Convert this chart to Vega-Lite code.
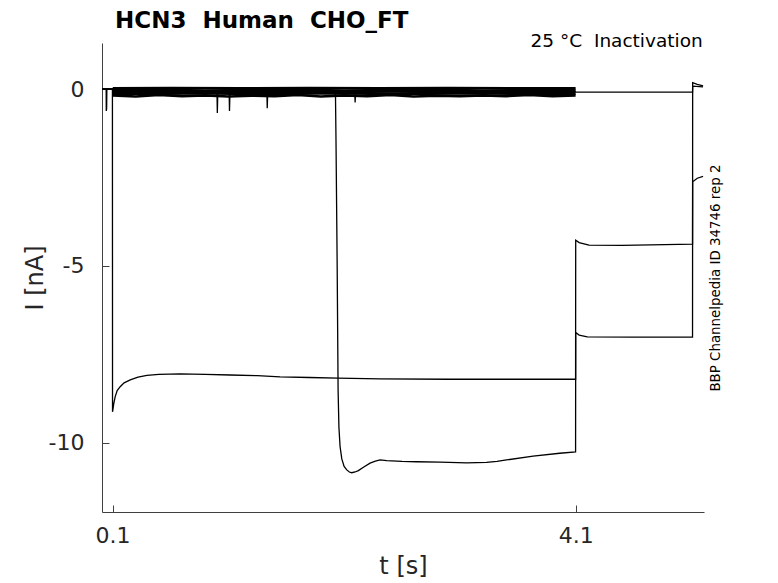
{
  "$schema": "https://vega.github.io/schema/vega-lite/v6.json",
  "width": 602,
  "height": 469,
  "autosize": {"type": "none"},
  "padding": {"left": 102, "top": 43, "right": 74, "bottom": 71},
  "config": {"view": {"stroke": null}, "font": "DejaVu Sans"},
  "title": {"text": "HCN3 \u00a0Human \u00a0CHO_FT", "anchor": "start", "frame": "group", "fontSize": 23, "fontWeight": "bold", "font": "DejaVu Sans", "color": "black", "dx": 13, "offset": -1},
  "datasets": {
    "traces": [
      {"sweep": "a", "t": 0.009, "I": 0.0}, {"sweep": "a", "t": 0.099, "I": 0.0}, {"sweep": "a", "t": 0.1, "I": -9.12},
      {"sweep": "a", "t": 0.11, "I": -8.9}, {"sweep": "a", "t": 0.123, "I": -8.69}, {"sweep": "a", "t": 0.14, "I": -8.52},
      {"sweep": "a", "t": 0.166, "I": -8.41}, {"sweep": "a", "t": 0.2, "I": -8.3}, {"sweep": "a", "t": 0.253, "I": -8.22},
      {"sweep": "a", "t": 0.32, "I": -8.14}, {"sweep": "a", "t": 0.397, "I": -8.09}, {"sweep": "a", "t": 0.5, "I": -8.06},
      {"sweep": "a", "t": 0.684, "I": -8.05}, {"sweep": "a", "t": 0.9, "I": -8.06}, {"sweep": "a", "t": 1.116, "I": -8.08},
      {"sweep": "a", "t": 1.35, "I": -8.1}, {"sweep": "a", "t": 1.547, "I": -8.13}, {"sweep": "a", "t": 1.8, "I": -8.15},
      {"sweep": "a", "t": 2.047, "I": -8.17}, {"sweep": "a", "t": 2.409, "I": -8.19}, {"sweep": "a", "t": 3.0, "I": -8.2},
      {"sweep": "a", "t": 3.5, "I": -8.2}, {"sweep": "a", "t": 4.099, "I": -8.2}, {"sweep": "a", "t": 4.1, "I": -4.27},
      {"sweep": "a", "t": 4.13, "I": -4.34}, {"sweep": "a", "t": 4.215, "I": -4.41}, {"sweep": "a", "t": 4.5, "I": -4.42},
      {"sweep": "a", "t": 5.109, "I": -4.38}, {"sweep": "a", "t": 5.11, "I": -2.62}, {"sweep": "a", "t": 5.15, "I": -2.52},
      {"sweep": "a", "t": 5.2, "I": -2.47},

      {"sweep": "b", "t": 0.009, "I": 0.0}, {"sweep": "b", "t": 0.099, "I": 0.0}, {"sweep": "b", "t": 0.102, "I": -0.05},
      {"sweep": "b", "t": 0.6, "I": -0.06}, {"sweep": "b", "t": 1.2, "I": -0.04}, {"sweep": "b", "t": 1.7, "I": -0.06},
      {"sweep": "b", "t": 2.025, "I": -0.05}, {"sweep": "b", "t": 2.03, "I": -1.5}, {"sweep": "b", "t": 2.04, "I": -5.0},
      {"sweep": "b", "t": 2.048, "I": -8.5}, {"sweep": "b", "t": 2.055, "I": -9.55}, {"sweep": "b", "t": 2.065, "I": -10.1},
      {"sweep": "b", "t": 2.08, "I": -10.45},
      {"sweep": "b", "t": 2.1, "I": -10.66}, {"sweep": "b", "t": 2.123, "I": -10.76}, {"sweep": "b", "t": 2.145, "I": -10.82},
      {"sweep": "b", "t": 2.166, "I": -10.84}, {"sweep": "b", "t": 2.195, "I": -10.82}, {"sweep": "b", "t": 2.223, "I": -10.78},
      {"sweep": "b", "t": 2.27, "I": -10.68}, {"sweep": "b", "t": 2.324, "I": -10.57}, {"sweep": "b", "t": 2.37, "I": -10.51},
      {"sweep": "b", "t": 2.41, "I": -10.48}, {"sweep": "b", "t": 2.468, "I": -10.5}, {"sweep": "b", "t": 2.6, "I": -10.52},
      {"sweep": "b", "t": 2.727, "I": -10.53},
      {"sweep": "b", "t": 2.928, "I": -10.54}, {"sweep": "b", "t": 3.158, "I": -10.56}, {"sweep": "b", "t": 3.33, "I": -10.55},
      {"sweep": "b", "t": 3.42, "I": -10.52},
      {"sweep": "b", "t": 3.503, "I": -10.48}, {"sweep": "b", "t": 3.732, "I": -10.37}, {"sweep": "b", "t": 3.962, "I": -10.29},
      {"sweep": "b", "t": 4.099, "I": -10.25}, {"sweep": "b", "t": 4.1, "I": -6.88}, {"sweep": "b", "t": 4.13, "I": -6.95},
      {"sweep": "b", "t": 4.2, "I": -7.0}, {"sweep": "b", "t": 4.6, "I": -7.01}, {"sweep": "b", "t": 5.109, "I": -7.01},
      {"sweep": "b", "t": 5.11, "I": 0.18}, {"sweep": "b", "t": 5.15, "I": 0.13}, {"sweep": "b", "t": 5.2, "I": 0.09},

      {"sweep": "h", "t": 0.009, "I": 0.0}, {"sweep": "h", "t": 0.045, "I": 0.0}, {"sweep": "h", "t": 0.046, "I": -0.62},
      {"sweep": "h", "t": 0.049, "I": -0.55}, {"sweep": "h", "t": 0.051, "I": 0.0}, {"sweep": "h", "t": 0.099, "I": 0.0},
      {"sweep": "h", "t": 0.102, "I": -0.08},
      {"sweep": "h", "t": 0.5, "I": -0.09}, {"sweep": "h", "t": 1.002, "I": -0.08}, {"sweep": "h", "t": 1.005, "I": -0.68},
      {"sweep": "h", "t": 1.009, "I": -0.1}, {"sweep": "h", "t": 1.107, "I": -0.08}, {"sweep": "h", "t": 1.11, "I": -0.62},
      {"sweep": "h", "t": 1.114, "I": -0.09}, {"sweep": "h", "t": 1.433, "I": -0.08}, {"sweep": "h", "t": 1.436, "I": -0.54},
      {"sweep": "h", "t": 1.44, "I": -0.09}, {"sweep": "h", "t": 1.8, "I": -0.08}, {"sweep": "h", "t": 2.192, "I": -0.09},
      {"sweep": "h", "t": 2.195, "I": -0.38}, {"sweep": "h", "t": 2.199, "I": -0.09}, {"sweep": "h", "t": 2.6, "I": -0.07},
      {"sweep": "h", "t": 3.2, "I": -0.09}, {"sweep": "h", "t": 3.7, "I": -0.08}, {"sweep": "h", "t": 4.099, "I": -0.08},
      {"sweep": "h", "t": 4.102, "I": -0.09}, {"sweep": "h", "t": 4.6, "I": -0.09}, {"sweep": "h", "t": 5.109, "I": -0.09},
      {"sweep": "h", "t": 5.11, "I": 0.08}, {"sweep": "h", "t": 5.2, "I": 0.06},

      {"sweep": "c", "t": 0.102, "I": 0.02}, {"sweep": "c", "t": 0.6, "I": 0.03}, {"sweep": "c", "t": 1.2, "I": 0.02},
      {"sweep": "c", "t": 1.8, "I": 0.03}, {"sweep": "c", "t": 2.4, "I": 0.02}, {"sweep": "c", "t": 3.0, "I": 0.03},
      {"sweep": "c", "t": 3.6, "I": 0.02}, {"sweep": "c", "t": 4.099, "I": 0.02},

      {"sweep": "d", "t": 0.102, "I": -0.03},
      {"sweep": "d", "t": 0.5, "I": -0.02}, {"sweep": "d", "t": 0.9, "I": -0.04}, {"sweep": "d", "t": 1.3, "I": -0.03},
      {"sweep": "d", "t": 1.7, "I": -0.02}, {"sweep": "d", "t": 2.1, "I": -0.04}, {"sweep": "d", "t": 2.5, "I": -0.03},
      {"sweep": "d", "t": 2.9, "I": -0.02}, {"sweep": "d", "t": 3.3, "I": -0.04}, {"sweep": "d", "t": 3.7, "I": -0.03},
      {"sweep": "d", "t": 4.099, "I": -0.03},

      {"sweep": "e", "t": 0.102, "I": -0.08}, {"sweep": "e", "t": 0.55, "I": -0.09}, {"sweep": "e", "t": 1.05, "I": -0.07},
      {"sweep": "e", "t": 1.55, "I": -0.09}, {"sweep": "e", "t": 2.05, "I": -0.08}, {"sweep": "e", "t": 2.55, "I": -0.07},
      {"sweep": "e", "t": 3.05, "I": -0.09}, {"sweep": "e", "t": 3.55, "I": -0.08}, {"sweep": "e", "t": 4.099, "I": -0.08},

      {"sweep": "f", "t": 0.102, "I": -0.13},
      {"sweep": "f", "t": 0.45, "I": -0.14}, {"sweep": "f", "t": 0.85, "I": -0.12}, {"sweep": "f", "t": 1.25, "I": -0.14},
      {"sweep": "f", "t": 1.65, "I": -0.13}, {"sweep": "f", "t": 2.05, "I": -0.12}, {"sweep": "f", "t": 2.45, "I": -0.14},
      {"sweep": "f", "t": 2.85, "I": -0.13}, {"sweep": "f", "t": 3.25, "I": -0.12}, {"sweep": "f", "t": 3.65, "I": -0.14},
      {"sweep": "f", "t": 4.099, "I": -0.13},

      {"sweep": "g", "t": 0.102, "I": -0.18},
      {"sweep": "g", "t": 0.3, "I": -0.21}, {"sweep": "g", "t": 0.5, "I": -0.17}, {"sweep": "g", "t": 0.7, "I": -0.2},
      {"sweep": "g", "t": 0.9, "I": -0.18}, {"sweep": "g", "t": 1.1, "I": -0.21}, {"sweep": "g", "t": 1.3, "I": -0.19},
      {"sweep": "g", "t": 1.5, "I": -0.2}, {"sweep": "g", "t": 1.7, "I": -0.17}, {"sweep": "g", "t": 1.9, "I": -0.21},
      {"sweep": "g", "t": 2.1, "I": -0.18}, {"sweep": "g", "t": 2.3, "I": -0.2}, {"sweep": "g", "t": 2.5, "I": -0.17},
      {"sweep": "g", "t": 2.7, "I": -0.21}, {"sweep": "g", "t": 2.9, "I": -0.19}, {"sweep": "g", "t": 3.1, "I": -0.2},
      {"sweep": "g", "t": 3.3, "I": -0.18}, {"sweep": "g", "t": 3.5, "I": -0.2}, {"sweep": "g", "t": 3.7, "I": -0.17},
      {"sweep": "g", "t": 3.9, "I": -0.2}, {"sweep": "g", "t": 4.099, "I": -0.18}
    ],
    "notes": [
      {"label": "25 °C \u00a0Inactivation", "t": 5.197, "I": 1.3},
      {"label": "BBP Channelpedia ID 34746 rep 2", "t": 5.208, "I": -5.34}
    ]
  },
  "layer": [
    {
      "data": {"name": "traces"},
      "transform": [{"filter": "indexof(['c','d','e','f','g'], datum.sweep) >= 0"}],
      "mark": {"type": "line", "color": "black", "strokeWidth": 2.6, "clip": true},
      "encoding": {
        "x": {
          "field": "t", "type": "quantitative",
          "scale": {"domain": [0.009, 5.208], "nice": false, "zero": false},
          "axis": {"values": [0.1, 4.1], "format": ".1f", "title": "t [s]", "grid": false,
                   "domainColor": "#404040", "tickColor": "#404040", "tickSize": -7,
                   "labelFontSize": 22, "labelColor": "#262626", "labelPadding": 20, "labelFont": "DejaVu Sans",
                   "titleFontSize": 24, "titleFontWeight": "normal", "titleColor": "#262626", "titleFont": "DejaVu Sans", "titlePadding": 8}
        },
        "y": {
          "field": "I", "type": "quantitative",
          "scale": {"domain": [-11.95, 1.3], "nice": false, "zero": false},
          "axis": {"values": [-10, -5, 0], "labelExpr": "datum.value == 0 ? '0' : '-' + abs(datum.value)", "title": "I [nA]", "grid": false,
                   "domainColor": "#404040", "tickColor": "#404040", "tickSize": -7,
                   "labelFontSize": 22, "labelColor": "#262626", "labelPadding": 25, "labelFont": "DejaVu Sans",
                   "titleFontSize": 24, "titleFontWeight": "normal", "titleColor": "#262626", "titleFont": "DejaVu Sans", "titlePadding": 1}
        },
        "detail": {"field": "sweep"}
      }
    },
    {
      "data": {"name": "traces"},
      "transform": [{"filter": "indexof(['a','b','h'], datum.sweep) >= 0"}],
      "mark": {"type": "line", "color": "black", "strokeWidth": 1.3, "clip": true},
      "encoding": {
        "x": {"field": "t", "type": "quantitative"},
        "y": {"field": "I", "type": "quantitative"},
        "detail": {"field": "sweep"}
      }
    },
    {
      "data": {"name": "notes"},
      "transform": [{"filter": "datum.I > 0"}],
      "mark": {"type": "text", "align": "right", "baseline": "alphabetic", "dy": 4, "fontSize": 18.5, "font": "DejaVu Sans", "color": "black"},
      "encoding": {
        "x": {"field": "t", "type": "quantitative"},
        "y": {"field": "I", "type": "quantitative"},
        "text": {"field": "label"}
      }
    },
    {
      "data": {"name": "notes"},
      "transform": [{"filter": "datum.I < 0"}],
      "mark": {"type": "text", "align": "center", "baseline": "middle", "angle": 270, "dy": 12, "fontSize": 13.4, "font": "DejaVu Sans", "color": "black"},
      "encoding": {
        "x": {"field": "t", "type": "quantitative"},
        "y": {"field": "I", "type": "quantitative"},
        "text": {"field": "label"}
      }
    }
  ]
}
